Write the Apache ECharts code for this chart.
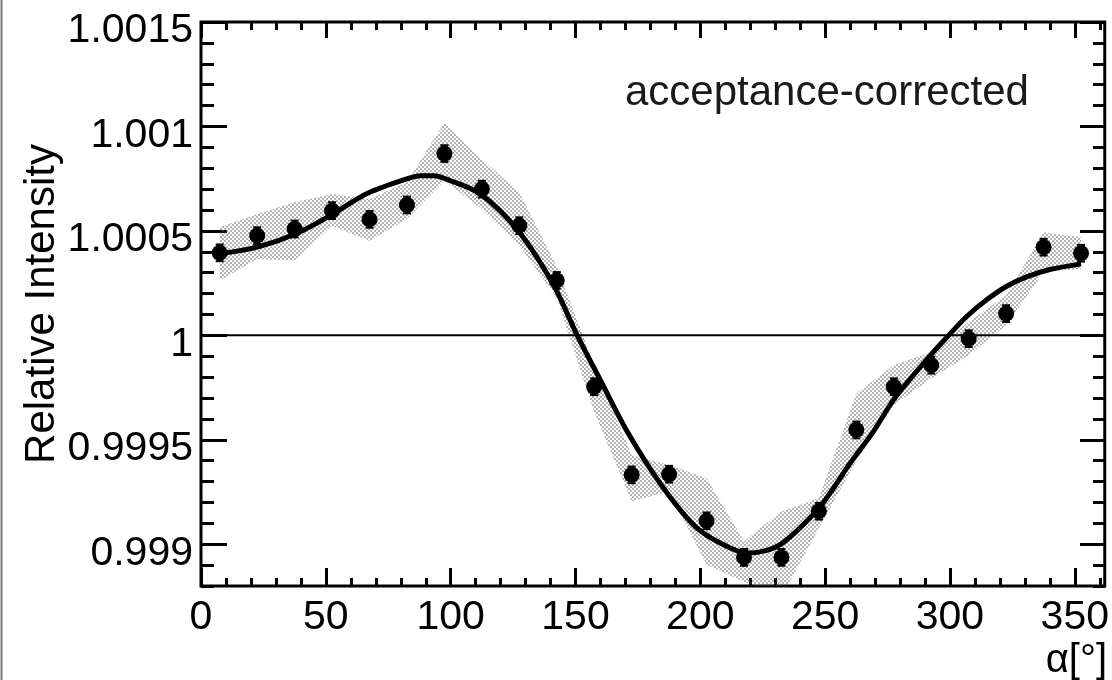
<!DOCTYPE html>
<html>
<head>
<meta charset="utf-8">
<title>Relative Intensity vs alpha</title>
<script src="https://cdn.jsdelivr.net/npm/echarts@6/dist/echarts.min.js"></script>
<style>
  html, body { margin: 0; padding: 0; background: #fff; }
  #chart { width: 1112px; height: 680px; }
</style>
</head>
<body>
<div id="chart"></div>
<script>
// Bin centres in alpha (degrees)
const alphaBins = [7.5, 22.5, 37.5, 52.5, 67.5, 82.5, 97.5, 112.5, 127.5, 142.5, 157.5, 172.5,
                   187.5, 202.5, 217.5, 232.5, 247.5, 262.5, 277.5, 292.5, 307.5, 322.5, 337.5, 352.5];
// Measured relative intensity per bin
const intensity = [1.000395, 1.000477, 1.000509, 1.000597, 1.000555, 1.000624, 1.000870, 1.000700,
                   1.000525, 1.000263, 0.999754, 0.999332, 0.999335, 0.999112, 0.998937, 0.998937,
                   0.999158, 0.999547, 0.999754, 0.999857, 0.999984, 1.000104, 1.000422, 1.000393];
// Statistical errors
const statErr = [0.00004, 0.00004, 0.00004, 0.00004, 0.00004, 0.00004, 0.00004, 0.00004,
                 0.00004, 0.00004, 0.00004, 0.00004, 0.00004, 0.00004, 0.00004, 0.00004,
                 0.00004, 0.00004, 0.00004, 0.00004, 0.00004, 0.00004, 0.00004, 0.00004];
// Systematic band edges
const bandHigh = [1.000517, 1.000581, 1.000637, 1.000676, 1.000652, 1.000734, 1.001019, 1.000843,
                  1.000684, 1.000330, 0.999857, 0.999427, 0.999379, 0.999316, 0.999014, 0.999157,
                  0.999221, 0.999722, 0.999857, 0.999922, 1.000065, 1.000191, 1.000494, 1.000470];
const bandLow  = [1.000263, 1.000366, 1.000358, 1.000525, 1.000453, 1.000557, 1.000740, 1.000605,
                  1.000430, 1.000180, 0.999634, 0.999205, 0.999253, 0.998902, 0.998820, 0.998750,
                  0.999077, 0.999400, 0.999666, 0.999793, 0.999905, 1.000048, 1.000303, 1.000318];
// Fit curve
const fitAlpha = [7.5, 23.3, 38.7, 52.7, 66.7, 82.7, 88, 93.3, 100, 112, 127, 141.3, 150.7, 160,
                  170.7, 185.3, 198.7, 212, 220, 232, 246.7, 253.3, 260, 269.3, 277.3, 284, 293.3,
                  298.7, 306.7, 314.7, 322.7, 330.7, 340, 352.5];
const fitValue = [1.000390, 1.000425, 1.000490, 1.000580, 1.000680, 1.000750, 1.000764, 1.000764,
                  1.000740, 1.000676, 1.000501, 1.000239, 1.000000, 0.999785, 0.999540, 0.999268,
                  0.999077, 0.998982, 0.998958, 0.998998, 0.999161, 0.999268, 0.999388, 0.999539,
                  0.999690, 0.999790, 0.999920, 0.999990, 1.000090, 1.000170, 1.000235, 1.000280,
                  1.000315, 1.000342];
// Axis ticks and labels
const xMajor = [0, 50, 100, 150, 200, 250, 300, 350];
const xMinor = [10, 20, 30, 40, 60, 70, 80, 90, 110, 120, 130, 140, 160, 170, 180, 190, 210, 220,
                230, 240, 260, 270, 280, 290, 310, 320, 330, 340, 360];
const yMajor = [0.999, 0.9995, 1, 1.0005, 1.001, 1.0015];
const yTickLabels = ['0.999', '0.9995', '1', '1.0005', '1.001', '1.0015'];
const yMinorSteps = [-12, -11, -9, -8, -7, -6, -4, -3, -2, -1, 1, 2, 3, 4, 6, 7, 8, 9, 11, 12, 13, 14];
const yMinor = yMinorSteps.map(k => +(1 + k * 1e-4).toFixed(6));

const FONT = "'Liberation Sans', Arial, Helvetica, sans-serif";

// stipple pattern for the systematic band
const tile = document.createElement('canvas');
tile.width = 4; tile.height = 4;
(function () {
  const c = tile.getContext('2d');
  c.fillStyle = '#555';
  c.beginPath(); c.arc(1, 1, 0.8, 0, Math.PI * 2); c.fill();
  c.beginPath(); c.arc(3, 3, 0.8, 0, Math.PI * 2); c.fill();
})();

const chart = echarts.init(document.getElementById('chart'), null, { renderer: 'canvas' });

// four overlapping grids share the plot frame so each side can carry its own major/minor ticks
const plotRect = { left: 201, right: 7, top: 22, bottom: 94 };
const tickStyle = { color: '#000', width: 3 };

function xAx(grid, pos, values, len, labels) {
  return {
    type: 'value', gridIndex: grid, position: pos, min: 0, max: 362,
    axisLine: { show: false, onZero: false }, splitLine: { show: false },
    axisTick: { show: true, inside: true, length: len, customValues: values, lineStyle: tickStyle },
    axisLabel: labels ? {
      show: true, customValues: values, margin: 11, color: '#000',
      fontFamily: FONT, fontSize: 41
    } : { show: false }
  };
}
function yAx(grid, pos, values, len, labels) {
  const ax = {
    type: 'value', gridIndex: grid, position: pos, min: 0.9988, max: 1.0015,
    axisLine: { show: false, onZero: false }, splitLine: { show: false },
    axisTick: { show: true, inside: true, length: len, customValues: values, lineStyle: tickStyle },
    axisLabel: { show: false }
  };
  if (labels) {
    ax.axisLabel = {
      show: true, customValues: values, margin: 8, color: '#000',
      fontFamily: FONT, fontSize: 41, verticalAlign: 'top', lineHeight: 18,
      formatter: v => {
        const i = yMajor.findIndex(m => Math.abs(m - v) < 1e-9);
        return i >= 0 ? yTickLabels[i] : '';
      }
    };
    ax.name = 'Relative Intensity';
    ax.nameLocation = 'middle';
    ax.nameMoveOverlap = false;
    ax.nameGap = 138;
    ax.nameTextStyle = { fontFamily: FONT, fontSize: 42, color: '#000' };
  }
  return ax;
}

const option = {
  animation: false,
  backgroundColor: '#fff',
  grid: [
    Object.assign({ show: true, borderColor: '#000', borderWidth: 3, backgroundColor: 'transparent' }, plotRect),
    Object.assign({}, plotRect),
    Object.assign({}, plotRect),
    Object.assign({}, plotRect)
  ],
  xAxis: [
    xAx(0, 'bottom', xMajor, 18, true),
    xAx(1, 'bottom', xMinor, 8, false),
    xAx(2, 'top', xMajor, 16, false),
    xAx(3, 'top', xMinor, 8, false)
  ],
  yAxis: [
    yAx(0, 'left', yMajor, 26, true),
    yAx(1, 'left', yMinor, 13, false),
    yAx(2, 'right', yMajor, 25, false),
    yAx(3, 'right', yMinor, 12, false)
  ],
  graphic: [
    { type: 'line', shape: { x1: 1.5, y1: 0, x2: 1.5, y2: 680 }, style: { stroke: '#777', lineWidth: 2 } },
    { type: 'text', left: 625, top: 72,
      style: { text: 'acceptance-corrected', font: '300 42px ' + FONT, fill: '#1a1a1a' } },
    { type: 'text', right: 5, top: 641,
      style: { text: 'α[°]', font: '40px ' + FONT, fill: '#000' } }
  ],
  series: [
    {
      // systematic band
      type: 'custom', name: 'band', z: 1,
      data: alphaBins.map((a, i) => [a, bandLow[i], bandHigh[i]]),
      renderItem: (params, api) => {
        if (params.dataIndex !== 0) return null;
        const pts = [];
        for (let i = 0; i < alphaBins.length; i++) pts.push(api.coord([alphaBins[i], bandHigh[i]]));
        for (let i = alphaBins.length - 1; i >= 0; i--) pts.push(api.coord([alphaBins[i], bandLow[i]]));
        const cs = params.coordSys;
        return {
          type: 'group',
          clipPath: { type: 'rect', shape: { x: cs.x, y: cs.y, width: cs.width, height: cs.height } },
          children: [{
            type: 'polygon', shape: { points: pts },
            style: { fill: { image: tile, repeat: 'repeat' }, stroke: null }
          }]
        };
      }
    },
    {
      // reference line at unity
      type: 'line', z: 2, data: [[0, 1], [362, 1]], symbol: 'none',
      lineStyle: { color: '#000', width: 2 }
    },
    {
      // fit
      type: 'line', z: 3, data: fitAlpha.map((a, i) => [a, fitValue[i]]),
      symbol: 'none', smooth: 0.3,
      lineStyle: { color: '#000', width: 5 }
    },
    {
      // error bars
      type: 'custom', z: 4,
      data: alphaBins.map((a, i) => [a, intensity[i] - statErr[i], intensity[i] + statErr[i]]),
      renderItem: (params, api) => {
        const lo = api.coord([api.value(0), api.value(1)]);
        const hi = api.coord([api.value(0), api.value(2)]);
        const w = 4;
        return {
          type: 'group',
          children: [
            { type: 'line', shape: { x1: lo[0], y1: lo[1], x2: hi[0], y2: hi[1] }, style: { stroke: '#000', lineWidth: 2 } },
            { type: 'line', shape: { x1: hi[0] - w, y1: hi[1], x2: hi[0] + w, y2: hi[1] }, style: { stroke: '#000', lineWidth: 2 } },
            { type: 'line', shape: { x1: lo[0] - w, y1: lo[1], x2: lo[0] + w, y2: lo[1] }, style: { stroke: '#000', lineWidth: 2 } }
          ]
        };
      }
    },
    {
      // measured points
      type: 'scatter', z: 5, symbol: 'circle', symbolSize: 16,
      data: alphaBins.map((a, i) => [a, intensity[i]]),
      itemStyle: { color: '#000', opacity: 1 }
    }
  ]
};
chart.setOption(option);
</script>
</body>
</html>
